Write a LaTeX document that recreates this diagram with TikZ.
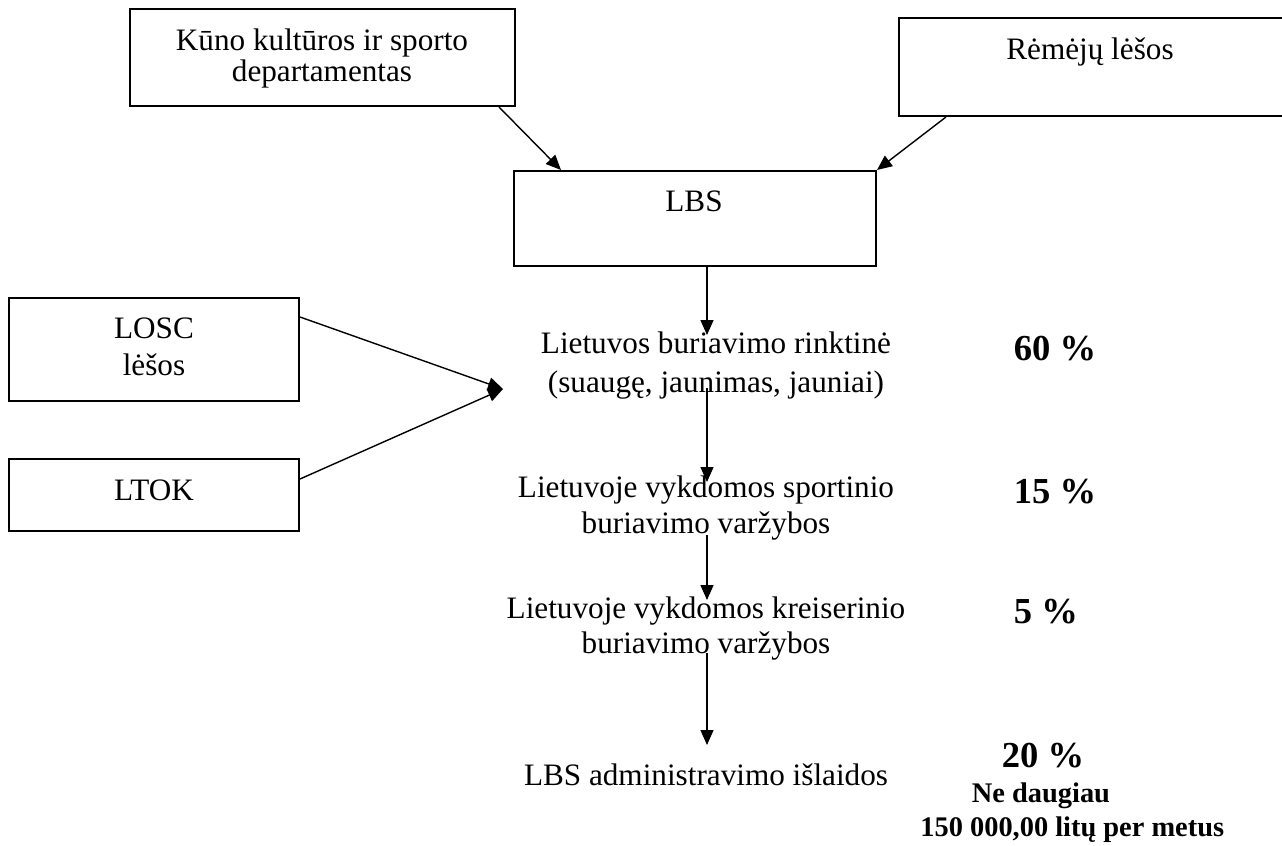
\documentclass[tikz,border=0pt]{standalone}
\usepackage{fontspec}
\setmainfont{Liberation Serif}
\usetikzlibrary{arrows.meta}

\tikzset{
  box/.style={draw, line width=1pt, rectangle, inner sep=0pt},
  txt/.style={anchor=base, inner sep=0pt, font=\fontsize{15.6}{18}\selectfont},
  pct/.style={anchor=base, inner sep=0pt, font=\fontsize{18.3}{21}\selectfont\bfseries},
  note/.style={anchor=base, inner sep=0pt, font=\fontsize{14.2}{17}\selectfont\bfseries},
  arr/.style={line width=0.7pt, -{Triangle[length=7.5pt,width=6.5pt]}}
}

\begin{document}
\begin{tikzpicture}[x=0.5pt,y=-0.5pt]
\useasboundingbox (0,0) rectangle (1282,846);
\clip (0,0) rectangle (1282,846);

% Funding boxes
\node[box, minimum width=192.5pt, minimum height=48.5pt] (kkd) at (322.5,57.5) {};
\node[box, minimum width=200.5pt, minimum height=49pt] (rem) at (1099.5,67) {};
\node[box, minimum width=181pt, minimum height=47.5pt] (lbs) at (695,218.5) {};
\node[box, minimum width=145pt, minimum height=51.5pt] (losc) at (154,349.5) {};
\node[box, minimum width=145pt, minimum height=36pt] (ltok) at (154,495) {};

% Box texts
\node[txt] (kkd1) at (322,50) {Kūno kultūros ir sporto};
\node[txt] (kkd2) at (322,82) {departamentas};
\node[txt] (remt) at (1090,60) {Rėmėjų lėšos};
\node[txt] (lbst) at (694,211) {LBS};
\node[txt] (losc1) at (154,338) {LOSC};
\node[txt] (losc2) at (154,375) {lėšos};
\node[txt] (ltokt) at (154,500) {LTOK};

% Spending chain
\node[txt] (rink1) at (716,353) {Lietuvos buriavimo rinktinė};
\node[txt] (rink2) at (716,392) {(suaugę, jaunimas, jauniai)};
\node[txt] (sport1) at (706,497) {Lietuvoje vykdomos sportinio};
\node[txt] (sport2) at (706,533) {buriavimo varžybos};
\node[txt] (kreis1) at (706,618) {Lietuvoje vykdomos kreiserinio};
\node[txt] (kreis2) at (706,653) {buriavimo varžybos};
\node[txt] (admin) at (706,785) {LBS administravimo išlaidos};

% Shares
\node[pct] (p60) at (1055,360) {60 \%};
\node[pct] (p15) at (1055,503) {15 \%};
\node[pct] (p5) at (1046,623) {5 \%};
\node[pct] (p20) at (1043,767) {20 \%};
\node[note] (lim1) at (1041,802) {Ne daugiau};
\node[note, anchor=base west] (lim2) at (920,836) {150 000,00 litų per metus};

% Arrow ends
\coordinate (meet) at (503,389);
\coordinate (e1) at (707,335);
\coordinate (s2) at (707,388);
\coordinate (e2) at (707,482);
\coordinate (s3) at (707,535);
\coordinate (e3) at (707,600);
\coordinate (s4) at (707,653);
\coordinate (e4) at (707,745);

% Arrows
\draw[arr] ([xshift=-8.5pt]kkd.south east) -- ([xshift=24pt]lbs.north west);
\draw[arr] ([xshift=24pt]rem.south west) -- (lbs.north east);
\draw[arr] ([yshift=-10pt]losc.north east) -- (meet);
\draw[arr] ([yshift=-10.5pt]ltok.north east) -- (meet);
\draw[arr] (lbs.south -| e1) -- (e1);
\foreach \a/\b in {s2/e2, s3/e3, s4/e4}
  \draw[arr] (\a) -- (\b);

\end{tikzpicture}
\end{document}
